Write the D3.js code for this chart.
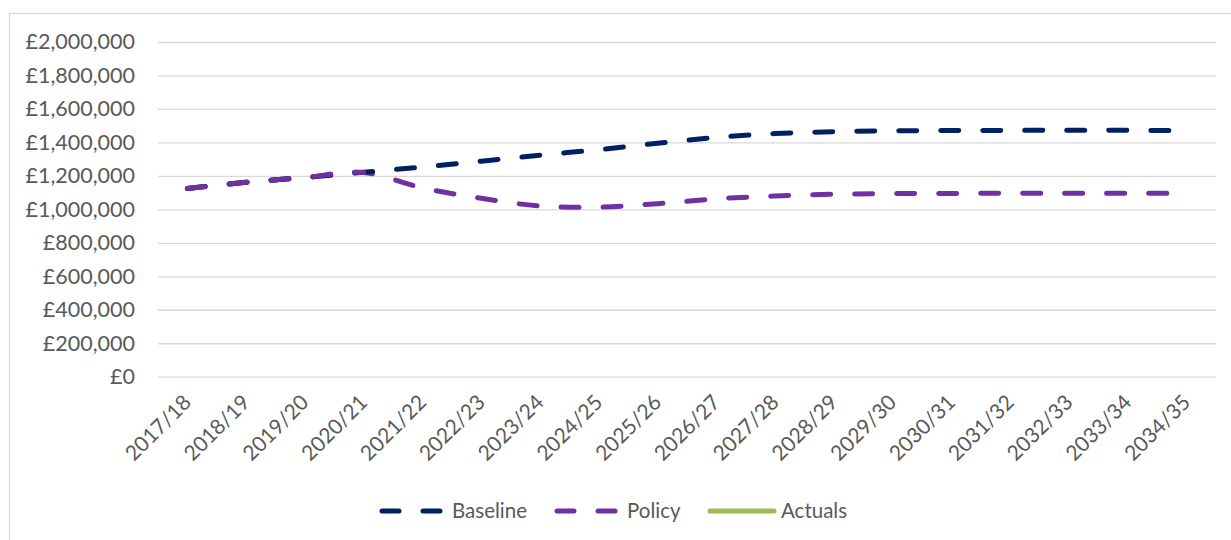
<!DOCTYPE html>
<html>
<head>
<meta charset="utf-8">
<script src="https://cdn.jsdelivr.net/npm/d3@7"></script>
<style>
  html, body { margin: 0; padding: 0; background: #fff; }
  svg { display: block; }
  text { font-family: Lato, "Open Sans", sans-serif; fill: #595959; }
</style>
</head>
<body>
<svg id="chart" width="1231" height="540"></svg>
<script>
const categories = ["2017/18","2018/19","2019/20","2020/21","2021/22","2022/23","2023/24","2024/25","2025/26",
  "2026/27","2027/28","2028/29","2029/30","2030/31","2031/32","2032/33","2033/34","2034/35"];
const baseline = [1125000,1162000,1190000,1222000,1253000,1288000,1324000,1357000,1395000,
  1430000,1453000,1464000,1469000,1471000,1472000,1472000,1472000,1471000];
const policy = [1125000,1162000,1190000,1220000,1128000,1066000,1020000,1013000,1034000,
  1063000,1080000,1090000,1094000,1095000,1096000,1096000,1096000,1096000];
const actuals = [];
const yTicks = [0,200000,400000,600000,800000,1000000,1200000,1400000,1600000,1800000,2000000];
const seriesNames = ["Baseline","Policy","Actuals"];
const seriesColors = ["#002060","#7030A0","#9BBB59"];

const svg = d3.select("#chart");
const margin = {left: 158, right: 1216, top: 42, bottom: 376.7};

// outer chart border (only left and top visible)
svg.append("rect").attr("x", 9.5).attr("y", 13.5).attr("width", 1240).attr("height", 560)
  .attr("fill", "none").attr("stroke", "#D9D9D9").attr("stroke-width", 1.3);

const x = d3.scaleBand().domain(categories).range([margin.left, margin.right]);
const y = d3.scaleLinear().domain([0, 2000000]).range([margin.bottom, margin.top]);
const cx = d => x(d) + x.bandwidth() / 2;

// gridlines + y labels
const yAxis = d3.axisLeft(y).tickValues(yTicks).tickSize(-(margin.right - margin.left)).tickPadding(23)
  .tickFormat(d => "£" + d3.format(",")(d));
const gy = svg.append("g").attr("transform", `translate(${margin.left},0)`).call(yAxis);
gy.select(".domain").remove();
gy.selectAll(".tick line").attr("stroke", "#D9D9D9").attr("stroke-width", 1.3);
gy.selectAll(".tick text").attr("font-size", 21.5).attr("font-family", "Lato, 'Open Sans', sans-serif").attr("fill", "#595959");

// x axis labels
const xAxis = d3.axisBottom(x).tickSize(0).tickPadding(0);
const gx = svg.append("g").attr("transform", `translate(0,${margin.bottom})`).call(xAxis);
gx.select(".domain").remove();
gx.selectAll(".tick text")
  .attr("font-size", 21).attr("font-family", "Lato, 'Open Sans', sans-serif").attr("fill", "#595959")
  .attr("text-anchor", "end").attr("dy", 0).attr("y", 0)
  .attr("transform", "translate(5,27) rotate(-45)");

const line = d3.line().x((d, i) => cx(categories[i])).y(d => y(d)).curve(d3.curveCatmullRom.alpha(0));

svg.append("path").datum(policy).attr("d", line).attr("fill", "none")
  .attr("stroke", seriesColors[1]).attr("stroke-width", 5).attr("stroke-linecap", "round")
  .attr("stroke-dasharray", "18,24");
svg.append("path").datum(baseline).attr("d", line).attr("fill", "none")
  .attr("stroke", seriesColors[0]).attr("stroke-width", 5).attr("stroke-linecap", "round")
  .attr("stroke-dasharray", "18,24");
if (actuals.length) {
  svg.append("path").datum(actuals).attr("d", line).attr("fill", "none")
    .attr("stroke", seriesColors[2]).attr("stroke-width", 5);
}

// policy on top over the shared early segment, as in the reference
svg.append("clipPath").attr("id", "earlyClip").append("rect")
  .attr("x", 0).attr("y", 0).attr("width", cx(categories[3]) + 2).attr("height", 540);
svg.append("path").datum(policy).attr("d", line).attr("fill", "none")
  .attr("stroke", seriesColors[1]).attr("stroke-width", 5).attr("stroke-linecap", "round")
  .attr("stroke-dasharray", "18,24")
  .attr("clip-path", "url(#earlyClip)");

// legend
const legend = [
  {name: seriesNames[0], color: seriesColors[0], x1: 382, x2: 440, tx: 452, dash: true},
  {name: seriesNames[1], color: seriesColors[1], x1: 557, x2: 615, tx: 627, dash: true},
  {name: seriesNames[2], color: seriesColors[2], x1: 710, x2: 774, tx: 781, dash: false}
];
const lg = svg.append("g");
legend.forEach(l => {
  const ln = lg.append("line").attr("x1", l.x1).attr("x2", l.x2).attr("y1", 511).attr("y2", 511)
    .attr("stroke", l.color).attr("stroke-width", 5).attr("stroke-linecap", "round");
  if (l.dash) ln.attr("stroke-dasharray", "17,24");
  lg.append("text").attr("x", l.tx).attr("y", 518).attr("font-size", 20.5).text(l.name);
});
</script>
</body>
</html>
